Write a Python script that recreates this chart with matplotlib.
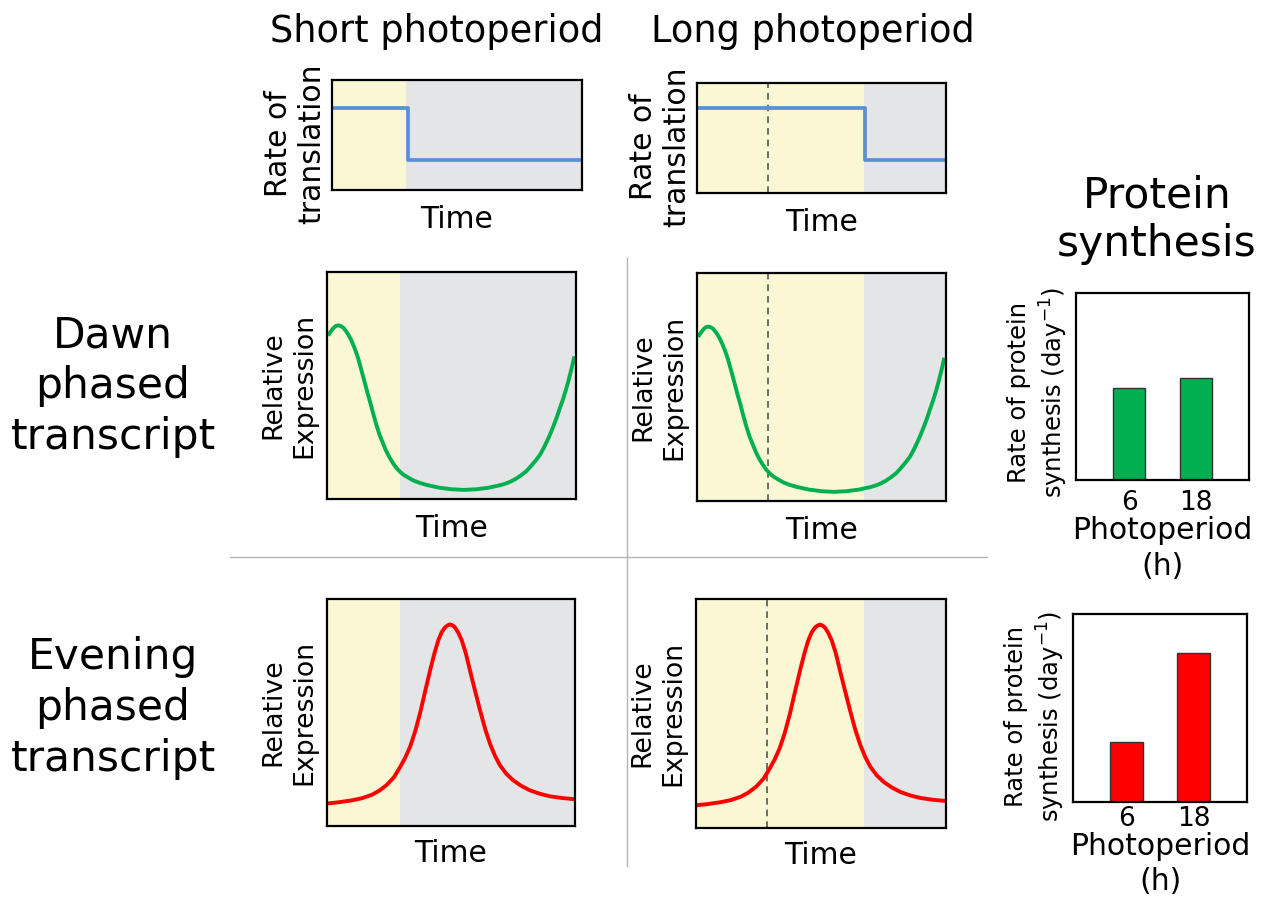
import matplotlib
matplotlib.use("Agg")
import matplotlib.pyplot as plt
from matplotlib.lines import Line2D

plt.rcParams['font.family'] = ['DejaVu Sans']

# ---------------- data ----------------
# time axis of the schematic panels, in percent of the plotted window
dusk_short = 29.5          # end of light period, short photoperiod
dusk_long = 67.0           # end of light period, long photoperiod
dusk_marker = 28.5         # short-day dusk marked inside the long-day panels

# rate of translation (light / dark)
rate_light_short, rate_dark_short = 0.745, 0.27
rate_light_long, rate_dark_long = 0.77, 0.30

# dawn phased transcript, relative expression over time
dawn_time = [0.5, 1.5, 2.5, 3.5, 4.5, 5.5, 6.5, 7.5, 8.5, 9.5, 10.5, 11.5, 12.5,
             13.7, 15, 16.2, 17.5, 18.7, 20, 21.2, 22.5, 23.7, 25, 26.5, 28,
             29.5, 31, 33, 35, 37.5, 40, 45, 50, 55, 60, 65, 70, 72, 74, 76, 78,
             80, 82, 84, 85.5, 87, 88.5, 89.8, 91, 92.3, 93.5, 94.8, 96, 97, 98,
             98.7, 99.3]
dawn_expr = [0.72, 0.738, 0.752, 0.762, 0.765, 0.762, 0.755, 0.742, 0.725, 0.705,
             0.68, 0.652, 0.62, 0.572, 0.52, 0.47, 0.42, 0.37, 0.32, 0.28, 0.245,
             0.213, 0.185, 0.158, 0.135, 0.118, 0.105, 0.092, 0.08, 0.07, 0.062,
             0.05, 0.043, 0.04, 0.043, 0.05, 0.062, 0.069, 0.078, 0.09, 0.105,
             0.122, 0.146, 0.172, 0.194, 0.224, 0.258, 0.29, 0.323, 0.36, 0.40,
             0.44, 0.483, 0.522, 0.565, 0.597, 0.628]

# evening phased transcript, relative expression over time
eve_time = [0, 5, 10, 14, 18, 21, 24, 27, 29.5, 31.5, 33.5, 35.5, 37.5, 39.5,
            41.6, 43.3, 44.9, 46.3, 47.6, 48.6, 49.6, 50.6, 51.6, 52.9, 54.3, 56,
            57.6, 59.6, 61.7, 63.7, 65.7, 67.7, 69.7, 72.3, 75.1, 78.3, 81.8,
            85.8, 89.8, 95, 100]
eve_expr = [0.099, 0.105, 0.113, 0.122, 0.137, 0.155, 0.18, 0.215, 0.26, 0.30,
            0.349, 0.415, 0.496, 0.59, 0.687, 0.76, 0.819, 0.855, 0.875, 0.884,
            0.888, 0.884, 0.875, 0.852, 0.819, 0.76, 0.687, 0.60, 0.51, 0.43,
            0.363, 0.31, 0.268, 0.23, 0.201, 0.177, 0.157, 0.142, 0.131, 0.123,
            0.118]

# protein synthesis bar charts
photoperiods = ['6', '18']
dawn_synthesis = [0.49, 0.545]
evening_synthesis = [0.32, 0.79]

# ---------------- style ----------------
YELLOW = '#faf8d4'
GREY = '#e4e5e7'
BLUE = '#5b8fd8'
GREEN = '#00b050'
RED = '#ff0000'

W, H = 1267, 899
fig = plt.figure(figsize=(W / 100, H / 100), dpi=100)


def px_box(x0, y0, x1, y1):
    return [x0 / W, 1 - y1 / H, (x1 - x0) / W, (y1 - y0) / H]


def schematic(box, dusk, marker=None):
    ax = fig.add_axes(px_box(*box))
    ax.set_xlim(0, 100)
    ax.set_ylim(0, 1)
    ax.axvspan(0, dusk, color=YELLOW, lw=0, zorder=0)
    ax.axvspan(dusk, 100, color=GREY, lw=0, zorder=0)
    if marker is not None:
        ax.axvline(marker, color='#555555', lw=1.2, ls=(0, (4, 3)), zorder=1)
    ax.set_xticks([])
    ax.set_yticks([])
    for s in ax.spines.values():
        s.set_linewidth(1.6)
        s.set_color('black')
        s.set_zorder(5)
    return ax


# translation rate panels
ax1 = schematic((332, 80, 582, 190), dusk_short)
ax1.plot([0, dusk_short + 1, dusk_short + 1, 100],
         [rate_light_short, rate_light_short, rate_dark_short, rate_dark_short],
         color=BLUE, lw=2.7, zorder=3)
ax2 = schematic((697, 83, 946, 193), dusk_long, dusk_marker)
ax2.plot([0, dusk_long + 0.3, dusk_long + 0.3, 100],
         [rate_light_long, rate_light_long, rate_dark_long, rate_dark_long],
         color=BLUE, lw=2.7, zorder=3)
for ax in (ax1, ax2):
    ax.set_ylabel('Rate of\ntranslation', fontsize=21.5, labelpad=4)
    ax.yaxis.label.set_y(0.42)
    ax.set_xlabel('Time', fontsize=21.5, labelpad=11)

# dawn transcript panels
ax3 = schematic((327, 272, 576, 499), dusk_short)
ax4 = schematic((697, 273, 946, 501), dusk_long, dusk_marker)
for ax in (ax3, ax4):
    ax.plot(dawn_time, dawn_expr, color=GREEN, lw=2.8, zorder=3,
            solid_capstyle='butt', solid_joinstyle='round')
    ax.set_xlabel('Time', fontsize=21.5, labelpad=11)

# evening transcript panels
ax5 = schematic((327, 599, 575, 826), dusk_short)
ax6 = schematic((696, 599, 946, 828), dusk_long, dusk_marker)
for ax in (ax5, ax6):
    ax.plot(eve_time, eve_expr, color=RED, lw=2.8, zorder=3,
            solid_capstyle='butt', solid_joinstyle='round')
    ax.set_xlabel('Time', fontsize=21.5, labelpad=9)

for ax in (ax3, ax4, ax5, ax6):
    ax.set_ylabel('Relative\nExpression', fontsize=19.3, labelpad=7,
                  linespacing=1.25)


# protein synthesis bars
def bars(box, values, color, label_y, tick_pad, xpad, xspacing):
    ax = fig.add_axes(px_box(*box))
    pos = list(range(len(values)))
    ax.bar(pos, values, width=0.48, color=color, edgecolor='#333333', lw=1)
    ax.set_xlim(-0.8, 1.8)
    ax.set_ylim(0, 1)
    ax.set_yticks([])
    ax.set_xticks(pos)
    ax.set_xticklabels(photoperiods, fontsize=19)
    ax.tick_params(axis='x', length=0, pad=tick_pad)
    for s in ax.spines.values():
        s.set_linewidth(1.6)
    ax.set_ylabel('Rate of protein\nsynthesis (day$^{-1}$)', fontsize=17.5,
                  labelpad=4, linespacing=1.3)
    ax.yaxis.label.set_y(label_y)
    ax.set_xlabel('Photoperiod\n(h)', fontsize=21.5, labelpad=xpad,
                  linespacing=xspacing)
    return ax


bars((1076, 293, 1249, 480), dawn_synthesis, GREEN, 0.47, 7, 0, 1.3)
bars((1073, 614, 1247, 802), evening_synthesis, RED, 0.455, 3, 0, 1.25)

# headings
fig.text(437 / W, 1 - 31 / H, 'Short photoperiod', fontsize=26.5,
         ha='center', va='center')
fig.text(813 / W, 1 - 31 / H, 'Long photoperiod', fontsize=26.5,
         ha='center', va='center')
fig.text(1157 / W, 1 - 220 / H, 'Protein\nsynthesis', fontsize=30.5,
         ha='center', va='center')
fig.text(113 / W, 1 - 386 / H, 'Dawn\nphased\ntranscript', fontsize=30.5,
         ha='center', va='center', linespacing=1.26)
fig.text(113 / W, 1 - 708 / H, 'Evening\nphased\ntranscript', fontsize=30.5,
         ha='center', va='center', linespacing=1.26)

# grid dividers between rows / columns
fig.add_artist(Line2D([627 / W, 627 / W], [1 - 258 / H, 1 - 866 / H],
                      transform=fig.transFigure, color='#b5b5b5', lw=1))
fig.add_artist(Line2D([230 / W, 987 / W], [1 - 557 / H, 1 - 557 / H],
                      transform=fig.transFigure, color='#b5b5b5', lw=1))

fig.savefig('out.png', dpi=100, facecolor='white')
